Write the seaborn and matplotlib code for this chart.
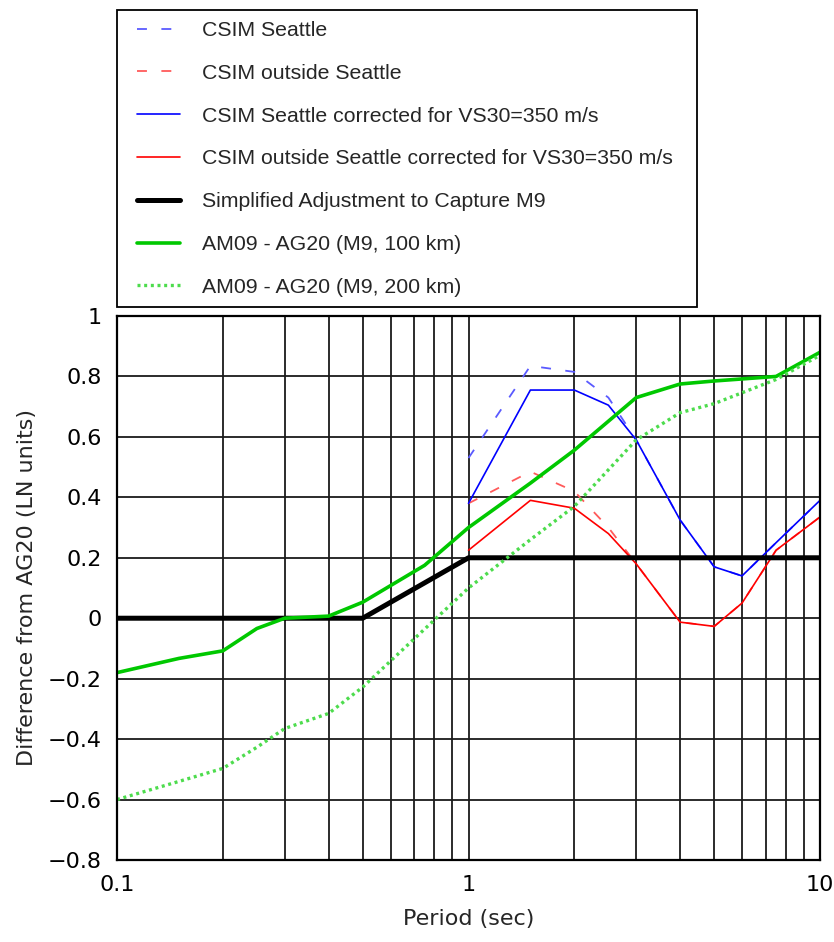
import numpy as np
import matplotlib
matplotlib.use("Agg")
import matplotlib.pyplot as plt
import matplotlib.patches as mpatches
from matplotlib.ticker import FixedLocator, NullFormatter, MultipleLocator
import seaborn as sns

# CSIM simulations (periods in sec, values in LN units)
period_csim = [1, 1.5, 2, 2.5, 3, 4, 5, 6, 7.5, 10]
csim_seattle = [0.53, 0.835, 0.815, 0.73, 0.59, 0.325, 0.17, 0.14, 0.25, 0.39]
csim_outside = [0.38, 0.485, 0.42, 0.30, 0.18, -0.013, -0.027, 0.05, 0.225, 0.335]
csim_seattle_corr = [0.38, 0.755, 0.755, 0.705, 0.59, 0.325, 0.17, 0.14, 0.25, 0.39]
csim_outside_corr = [0.225, 0.39, 0.364, 0.28, 0.18, -0.013, -0.027, 0.05, 0.225, 0.335]

# simplified adjustment
period_adj = [0.1, 0.5, 1, 10]
adj_m9 = [0.0, 0.0, 0.2, 0.2]

# AM09 - AG20
period_am = [0.1, 0.15, 0.2, 0.25, 0.3, 0.4, 0.5, 0.75, 1, 1.5, 2, 3, 4, 5, 7.5, 10]
am_100km = [-0.18, -0.133, -0.108, -0.034, 0.0, 0.007, 0.053, 0.175, 0.30,
            0.447, 0.556, 0.73, 0.775, 0.785, 0.80, 0.88]
am_200km = [-0.60, -0.54, -0.497, -0.427, -0.365, -0.315, -0.228, -0.036, 0.10,
            0.26, 0.37, 0.59, 0.68, 0.71, 0.79, 0.87]

xtick_vals = [0.1, 1, 10]
xtick_labels = ["0.1", "1", "10"]
ytick_vals = [-0.8, -0.6, -0.4, -0.2, 0, 0.2, 0.4, 0.6, 0.8, 1]
ytick_labels = ["\u22120.8", "\u22120.6", "\u22120.4", "\u22120.2", "0",
                "0.2", "0.4", "0.6", "0.8", "1"]

sns.set_style("white")
plt.rcParams['font.family'] = ['DejaVu Sans']

W, H = 834, 942
fig = plt.figure(figsize=(W / 100, H / 100), dpi=100)
ax = fig.add_axes([117 / W, 1 - 860 / H, (820 - 117) / W, (860 - 316) / H])

dash = (0, (5.5, 8))
series = [
    (period_csim, csim_seattle, "#5a5aff", dash, 1.3, "CSIM Seattle"),
    (period_csim, csim_outside, "#ff5a5a", dash, 1.3, "CSIM outside Seattle"),
    (period_csim, csim_seattle_corr, "#0000ff", "-", 1.2, "CSIM Seattle corrected for VS30=350 m/s"),
    (period_csim, csim_outside_corr, "#ff0000", "-", 1.2, "CSIM outside Seattle corrected for VS30=350 m/s"),
    (period_adj, adj_m9, "black", "-", 3.6, "Simplified Adjustment to Capture M9"),
    (period_am, am_100km, "#00c800", "-", 2.6, "AM09 - AG20 (M9, 100 km)"),
    (period_am, am_200km, "#4ddc4d", (0, (0.9, 1.1)), 2.4, "AM09 - AG20 (M9, 200 km)"),
]
for xs, ys, col, ls, lw, lab in series:
    sns.lineplot(x=xs, y=ys, ax=ax, color=col, linestyle=ls, linewidth=lw,
                 label=lab, estimator=None, sort=False, legend=False)

ax.set_xscale("log")
ax.set_xlim(0.1, 10)
ax.set_ylim(-0.8, 1.0)
ax.set_xticks(xtick_vals, xtick_labels)
ax.xaxis.set_minor_locator(FixedLocator([m * d for d in (0.1, 1) for m in range(2, 10)]))
ax.xaxis.set_minor_formatter(NullFormatter())
ax.set_yticks(ytick_vals, ytick_labels)
ax.yaxis.set_minor_locator(MultipleLocator(0.05))

ax.grid(True, which="major", axis="both", color="#1a1a1a", linewidth=1.3)
ax.grid(True, which="minor", axis="x", color="#1a1a1a", linewidth=1.3)
ax.set_axisbelow(True)

for sp in ax.spines.values():
    sp.set_color("black")
    sp.set_linewidth(1.6)

ax.tick_params(axis="both", which="major", direction="inout", length=12, width=1.2,
               labelsize=16, colors="black", pad=5)
ax.tick_params(axis="both", which="minor", direction="inout", length=6, width=1.0)

ax.set_xlabel("Period (sec)", fontsize=16, labelpad=10)
ax.set_ylabel("Difference from AG20 (LN units)", fontsize=16, labelpad=8)

# legend above the axes, frame drawn as a box in figure pixels
handles, labels = ax.get_legend_handles_labels()
leg = fig.legend(handles, labels, loc="upper left",
                 bbox_to_anchor=(137 / W, 1 - 21 / H), bbox_transform=fig.transFigure,
                 frameon=False, borderpad=0, borderaxespad=0,
                 prop={"family": "Liberation Sans", "size": 15.3},
                 handlelength=2.0, handletextpad=1.05, labelspacing=1.12)
box = mpatches.Rectangle((117 / W, 1 - 307 / H), (697 - 117) / W, (307 - 10) / H,
                         transform=fig.transFigure, fill=False, edgecolor="black",
                         linewidth=1.3)
fig.add_artist(box)

fig.savefig("out.png", dpi=100)
